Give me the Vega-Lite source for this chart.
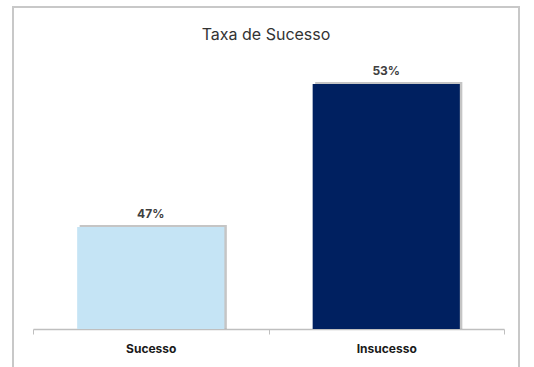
{
  "$schema": "https://vega.github.io/schema/vega-lite/v6.json",
  "width": 506,
  "height": 363,
  "autosize": {"type": "none"},
  "padding": {"left": 13, "top": 7, "right": 15, "bottom": 0},
  "background": "white",
  "title": {"text": "Taxa de Sucesso", "font": "Inter", "fontSize": 16, "fontWeight": "normal", "color": "#333333", "anchor": "middle", "offset": -52, "baseline": "bottom"},
  "config": {"view": {"stroke": "#c8c8c8", "strokeWidth": 2}},
  "data": {"values": [
    {"categoria": "Sucesso", "taxa": 0.47},
    {"categoria": "Insucesso", "taxa": 0.53}
  ]},
  "encoding": {
    "x": {"field": "categoria", "type": "nominal", "sort": ["Sucesso", "Insucesso"],
      "scale": {"range": [20, 491], "paddingInner": 0, "paddingOuter": 0},
      "axis": {"title": null, "orient": "bottom", "offset": -41, "domainColor": "#bfbfbf", "domainWidth": 1.5, "tickColor": "#bfbfbf", "tickSize": 5, "tickBand": "extent", "labelFont": "Inter", "labelFontSize": 12, "labelFontWeight": "bold", "labelColor": "#1a1a1a", "labelPadding": 9, "labelAngle": 0}},
    "y": {"field": "taxa", "type": "quantitative", "scale": {"domain": [0.410, 0.5623], "zero": false, "nice": false}, "axis": null}
  },
  "layer": [
    {"mark": {"type": "bar", "color": "#7f7f7f", "opacity": 0.45, "xOffset": 2.5, "yOffset": -2, "width": {"band": 0.625}},
     "encoding": {"y2": {"datum": 0.4272}}},
    {"mark": {"type": "bar", "width": {"band": 0.625}},
     "encoding": {"y2": {"datum": 0.4272},
       "color": {"field": "categoria", "type": "nominal", "scale": {"domain": ["Sucesso", "Insucesso"], "range": ["#c5e4f5", "#002060"]}, "legend": null}}},
    {"mark": {"type": "text", "baseline": "bottom", "dy": -6, "font": "Inter", "fontSize": 12, "fontWeight": "bold", "color": "#404040"},
     "encoding": {"text": {"field": "taxa", "type": "quantitative", "format": ".0%"}}}
  ]
}
